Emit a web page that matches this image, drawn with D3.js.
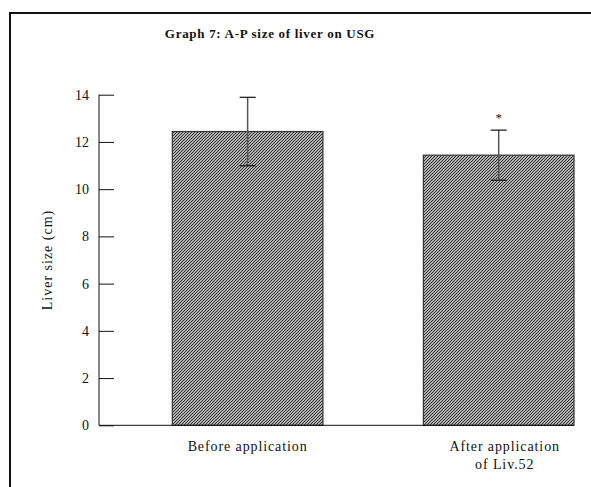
<!DOCTYPE html>
<html>
<head>
<meta charset="utf-8">
<script src="https://cdn.jsdelivr.net/npm/d3@7"></script>
<style>
  body { margin: 0; background: #fff; }
  text { font-family: "Liberation Serif", "Times New Roman", serif; fill: #111; }
</style>
</head>
<body>
<script>
// chart data
var groups = ["Before application", "After application of Liv.52"];
var groupLines = [["Before application"], ["After application", "of Liv.52"]];
var means = [12.44, 11.44];
var sds = [1.45, 1.06];
var marks = ["", "*"];
var yTicks = [0, 2, 4, 6, 8, 10, 12, 14];

var width = 591, height = 487;
let axisLeft = 99, axisRight = 574;
let yTop = 94.7, yBottom = 425.3;

var svg = d3.select("body").append("svg")
    .attr("width", width)
    .attr("height", height);

// hatch fill of the bars
var pat = svg.append("defs").append("pattern")
    .attr("id", "hatch")
    .attr("patternUnits", "userSpaceOnUse")
    .attr("width", 3)
    .attr("height", 3);
pat.append("rect").attr("width", 3).attr("height", 3).attr("fill", "#eeeeee");
pat.append("path")
    .attr("d", "M-1,1 L1,-1 M0,3 L3,0 M2,4 L4,2")
    .attr("stroke", "#2a2a2a")
    .attr("stroke-width", 1.2);

// frame
svg.append("path")
    .attr("d", "M10,487 L10,13 L591,13")
    .attr("fill", "none")
    .attr("stroke", "#111")
    .attr("stroke-width", 2);

// title
svg.append("text")
    .attr("x", 270)
    .attr("y", 38)
    .attr("text-anchor", "middle")
    .style("font-weight", "bold")
    .style("font-size", "13px")
    .style("letter-spacing", "0.7px")
    .text("Graph 7: A-P size of liver on USG");

var x = d3.scaleBand()
    .domain(groups)
    .range([axisLeft, axisRight])
    .paddingInner(0.4)
    .paddingOuter(0.146)
    .align(1);

var y = d3.scaleLinear()
    .domain([0, 14])
    .range([yBottom, yTop]);

// bars
svg.selectAll("rect.bar")
    .data(groups)
    .enter().append("rect")
    .attr("class", "bar")
    .attr("x", function (d) { return x(d); })
    .attr("width", x.bandwidth())
    .attr("y", function (d, i) { return y(means[i]); })
    .attr("height", function (d, i) { return y(0) - y(means[i]); })
    .attr("fill", "url(#hatch)")
    .attr("stroke", "#333")
    .attr("stroke-width", 1.2);

// y axis, ticks pointing inward
var yAxis = svg.append("g")
    .attr("transform", "translate(" + axisLeft + ",0)")
    .call(d3.axisRight(y).tickValues(yTicks).tickSize(15).tickFormat(""));
yAxis.select(".domain").attr("stroke", "#111").attr("d", "M0," + yTop + "V" + yBottom);
yAxis.selectAll(".tick line").attr("stroke", "#111");

svg.selectAll("text.ytick")
    .data(yTicks)
    .enter().append("text")
    .attr("class", "ytick")
    .attr("x", 89)
    .attr("y", function (d) { return y(d) + 5; })
    .attr("text-anchor", "end")
    .style("font-size", "14px")
    .text(function (d) { return d; });

// x axis line
svg.append("line")
    .attr("x1", axisLeft)
    .attr("x2", axisRight)
    .attr("y1", y(0))
    .attr("y2", y(0))
    .attr("stroke", "#111")
    .attr("stroke-width", 1);

// y axis title
svg.append("text")
    .attr("transform", "translate(52," + ((yTop + yBottom) / 2) + ") rotate(-90)")
    .attr("text-anchor", "middle")
    .style("font-size", "14px")
    .style("letter-spacing", "1px")
    .text("Liver size (cm)");

// error bars
var capHalf = 8;
groups.forEach(function (g, i) {
    var cx = x(g) + x.bandwidth() / 2;
    svg.append("line")
        .attr("x1", cx).attr("x2", cx)
        .attr("y1", y(means[i] + sds[i]))
        .attr("y2", y(means[i] - sds[i]))
        .attr("stroke", "#555")
        .attr("stroke-width", 1.5);
    [means[i] + sds[i], means[i] - sds[i]].forEach(function (v) {
        svg.append("line")
            .attr("x1", cx - capHalf).attr("x2", cx + capHalf)
            .attr("y1", y(v)).attr("y2", y(v))
            .attr("stroke", "#111")
            .attr("stroke-width", 1.2);
    });
    if (marks[i]) {
        svg.append("text")
            .attr("x", cx)
            .attr("y", y(means[i] + sds[i]) - 8)
            .attr("text-anchor", "middle")
            .style("font-size", "13px")
            .text(marks[i]);
    }
    // category label
    var lx = cx + (i === 1 ? 6 : 0);
    svg.append("text")
        .attr("x", lx)
        .attr("y", 451)
        .attr("text-anchor", "middle")
        .style("font-size", "14px")
        .style("letter-spacing", "0.9px")
        .selectAll("tspan")
        .data(groupLines[i])
        .enter().append("tspan")
        .attr("x", lx)
        .attr("dy", function (d, j) { return j === 0 ? 0 : 18; })
        .text(function (d) { return d; });
});
</script>
</body>
</html>
